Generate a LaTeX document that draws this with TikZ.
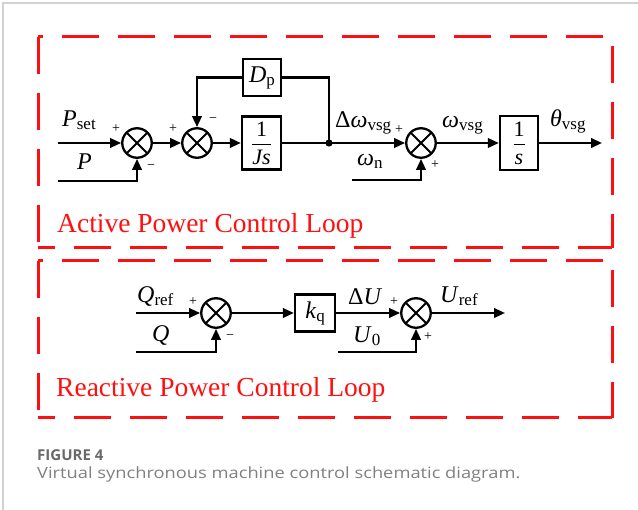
\documentclass[tikz,border=0pt]{standalone}
\usepackage{fontspec}
\usepackage{amsmath}
\setmainfont{Liberation Serif}
\newfontfamily\capfont{Open Sans}
\usetikzlibrary{arrows.meta,calc}
\newcommand{\lbl}[2]{{\fontsize{24}{24}\selectfont #1}\raisebox{-3pt}{\fontsize{17}{17}\selectfont #2}}
\newcommand{\biglbl}[1]{{\fontsize{24}{24}\selectfont #1}}
\newcommand{\myredframe}[4]{%
  \draw[redbox,dash phase=32pt] (#1,#2) -- (#3,#2);
  \draw[redbox] (#1,#2) -- (#1,#4);
  \draw[redbox,dash phase=47pt] (#3,#2) -- (#3,#4);
  \draw[redbox,dash phase=20pt] (#1,#4) -- (#3,#4);}
\definecolor{capgray}{HTML}{6A6A6A}
\definecolor{redline}{HTML}{FF1010}
\begin{document}
\begin{tikzpicture}[x=1pt,y=-1pt,
  sig/.style={line width=2.3pt,-{Triangle[length=11pt,width=9.5pt]}},
  wire/.style={line width=2.3pt},
  sumnode/.style={circle,draw,line width=2.3pt,minimum size=29.5pt,inner sep=0pt,
    path picture={\draw[line width=2.1pt] (path picture bounding box.south west) -- (path picture bounding box.north east)
      (path picture bounding box.north west) -- (path picture bounding box.south east);}},
  blk/.style={draw,line width=2.3pt,inner sep=0pt,font=\fontsize{22}{22}\selectfont},
  lab/.style={inner sep=0pt,anchor=base west},
  sgn/.style={inner sep=0pt,font=\fontsize{14}{14}\selectfont},
  title/.style={inner sep=0pt,anchor=base west,text=redline,font=\fontsize{27.5}{28}\selectfont},
  redbox/.style={redline,line width=3pt,dash pattern=on 37pt off 19pt}]
\useasboundingbox (0,0) rectangle (638,510);
\draw[gray!35,line width=1.2pt] (3,510) -- (3,3) -- (638,3);

% ---------- active power loop ----------
\myredframe{38}{37}{612}{248}
\node[sumnode] (s1) at (137,143) {};
\node[sumnode] (s2) at (197,143) {};
\node[blk,minimum width=39pt,minimum height=53pt] (bJ) at (261.5,143) {$\dfrac{\text{1}}{\textit{Js}}$};
\node[blk,minimum width=38pt,minimum height=37pt] (bD) at (262,77.5) {\lbl{\textit{D}}{p}};
\coordinate (j) at (329,143);
\node[sumnode] (s3) at (421,143) {};
\node[blk,minimum width=38pt,minimum height=54pt] (bS) at (519,143) {$\dfrac{\text{1}}{\textit{s}}$};
\coordinate (pin) at (58,143);
\coordinate (pin2) at (58,181);
\coordinate (wn) at (352,180);
\coordinate (out1) at (602,143);

\draw[sig] (pin) -- (s1);
\draw[sig] (pin2) -| (s1);
\draw[sig] (s1) -- (s2);
\draw[sig] (s2) -- (bJ);
\draw[wire] (bJ) -- (j);
\draw[wire] (j) |- (bD);
\draw[sig] (bD) -| (s2);
\draw[sig] (j) -- (s3);
\draw[sig] (wn) -| (s3);
\draw[sig] (s3) -- (bS);
\draw[sig] (bS) -- (out1);
\fill (j) circle (3.6pt);

\node[lab] (lPset) at (62,127) {\lbl{\textit{P}}{set}};
\node[lab] (lP) at (77,170) {\biglbl{\textit{P}}};
\node[lab] (ldw) at (335,128) {\lbl{Δ\textit{ω}}{vsg}};
\node[lab] (lwn) at (357,166) {\lbl{\textit{ω}}{n}};
\node[lab] (lwv) at (442,128) {\lbl{\textit{ω}}{vsg}};
\node[lab] (lth) at (550,127) {\lbl{\textit{θ}}{vsg}};
\node[sgn] at (116,129) {+};
\node[sgn] at (151,167) {−};
\node[sgn] at (173,129) {+};
\node[sgn] at (213,120) {−};
\node[sgn] at (399,130) {+};
\node[sgn] at (435,165) {+};
\node[title] (t1) at (57,233) {Active Power Control Loop};

% ---------- reactive power loop ----------
\myredframe{38}{261}{612}{418}
\node[sumnode] (s4) at (216,313) {};
\node[blk,minimum width=40pt,minimum height=37pt] (bK) at (315,313) {\lbl{\textit{k}}{q}};
\node[sumnode] (s5) at (416,313) {};
\coordinate (qin) at (136,313);
\coordinate (qin2) at (136,352);
\coordinate (u0) at (338,352);
\coordinate (out2) at (505,313);
\draw[sig] (qin) -- (s4);
\draw[sig] (qin2) -| (s4);
\draw[sig] (s4) -- (bK);
\draw[sig] (bK) -- (s5);
\draw[sig] (u0) -| (s5);
\draw[sig] (s5) -- (out2);

\node[lab] (lQr) at (137,303) {\lbl{\textit{Q}}{ref}};
\node[lab] (lQ) at (152,342) {\biglbl{\textit{Q}}};
\node[lab] (ldU) at (348,305) {\biglbl{Δ\textit{U}}};
\node[lab] (lU0) at (353,343) {\lbl{\textit{U}}{0}};
\node[lab] (lUr) at (440,303) {\lbl{\textit{U}}{ref}};
\node[sgn] at (193,302) {+};
\node[sgn] at (230,337) {−};
\node[sgn] at (394,302) {+};
\node[sgn] at (428,337) {+};
\node[title] (t2) at (56,397) {Reactive Power Control Loop};

% ---------- caption ----------
\node[inner sep=0pt,anchor=base west,text=capgray,font=\capfont\bfseries\fontsize{15}{15}\selectfont] (fig) at (37,461) {FIGURE 4};
\node[inner sep=0pt,anchor=base west,text=gray,font=\capfont\fontsize{15.5}{16}\selectfont] (cap) at (37,479) {\scalebox{1.18}[1]{Virtual synchronous machine control schematic diagram.}};
\end{tikzpicture}
\end{document}
